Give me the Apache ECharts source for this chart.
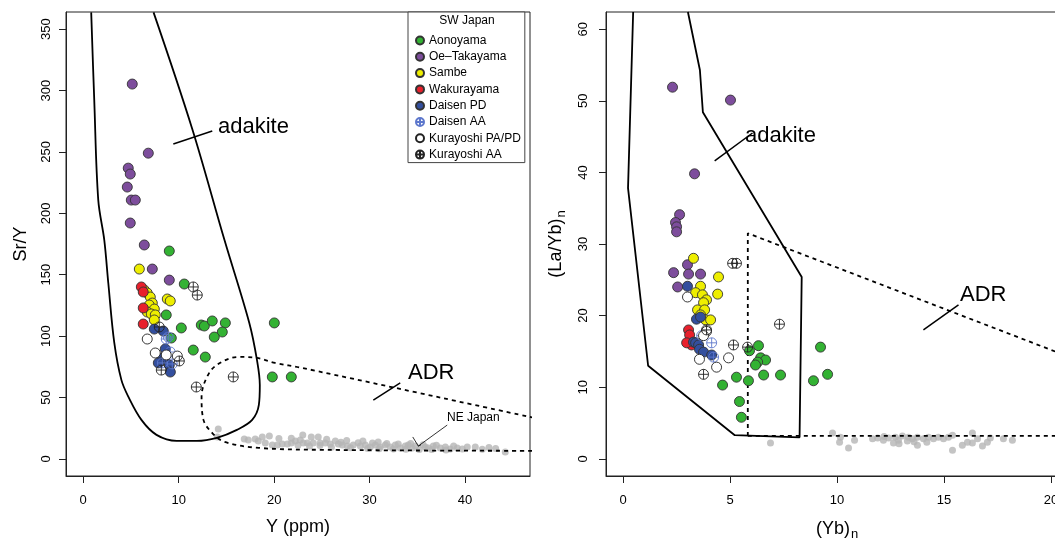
<!DOCTYPE html>
<html><head><meta charset="utf-8">
<script src="https://cdn.jsdelivr.net/npm/echarts@6/dist/echarts.min.js"></script>
<style>html,body{margin:0;padding:0;background:#fff}#c{width:1055px;height:541px}</style>
</head><body><div id="c"></div>
<script>
// ---------------- DATA ----------------
const groupNames = ['Aonoyama','Oe\u2013Takayama','Sambe','Wakurayama','Daisen PD','Daisen AA','Kurayoshi PA/PD','Kurayoshi AA'];
const leftTicksX = [0,10,20,30,40];
const leftTicksY = [0,50,100,150,200,250,300,350];
const rightTicksX = [0,5,10,15,20];
const rightTicksY = [0,10,20,30,40,50,60];

// Left panel: Y (ppm) vs Sr/Y
const L_aonoyama = [[9.02,169.3],[10.59,142.4],[8.70,117.2],[10.28,106.6],[12.37,109.0],[12.69,108.2],[13.52,112.3],[14.89,110.7],[14.57,103.3],[13.73,99.2],[9.23,98.4],[11.53,88.6],[12.79,82.9],[20.02,110.7],[19.81,66.7],[21.80,66.7]];
const L_oe = [[5.14,305.3],[6.82,249.0],[4.72,236.8],[4.93,232.0],[4.62,221.4],[5.04,210.8],[5.46,210.8],[4.93,192.1],[6.40,174.2],[7.24,154.6],[9.02,145.6]];
const L_sambe = [[5.88,154.6],[8.81,130.2],[9.12,128.6],[6.40,137.5],[6.71,135.1],[7.03,131.8],[7.24,126.9],[6.92,125.3],[7.45,122.0],[6.71,119.6],[7.13,118.0],[7.55,117.2],[7.45,113.1]];
const L_wakura = [[6.09,140.0],[6.29,135.9],[6.29,122.9],[6.29,109.8]];
const L_daisenPD = [[7.45,105.7],[8.39,104.1],[8.60,89.5],[8.29,82.1],[8.50,80.5],[9.02,76.4],[9.13,70.7],[7.87,78.1]];
const L_daisenAA = [[8.70,97.6],[8.91,99.2],[8.29,78.1],[9.33,77.3],[9.12,87.0]];
const L_kuraPA = [[6.71,97.6],[7.55,86.2],[8.70,84.6],[9.86,83.7]];
const L_kuraAA = [[11.53,140.0],[11.95,133.4],[7.97,107.4],[10.07,79.7],[8.18,72.3],[15.72,66.7],[11.85,58.5]];
const L_neJapan = [[14.15,24.3],[14.05,17.8],[16.87,16.1],[17.29,15.3],[18.02,16.1],[18.34,14.5],[18.76,17.8],[19.07,12.9],[19.81,11.2],[20.33,11.2],[20.85,12.1],[21.38,12.1],[21.80,12.9],[22.22,14.5],[22.74,15.3],[23.05,12.9],[23.47,12.9],[23.89,17.8],[24.10,12.9],[24.62,17.8],[24.83,12.9],[25.36,12.9],[25.88,12.1],[26.41,14.5],[26.72,12.1],[27.14,11.2],[27.67,10.4],[28.29,11.2],[29.03,10.4],[29.55,11.2],[30.07,9.6],[30.60,11.2],[31.12,9.6],[31.64,11.2],[32.17,9.6],[32.69,11.2],[33.21,8.8],[33.74,10.4],[34.05,11.2],[34.47,8.8],[34.79,10.4],[35.83,9.6],[36.15,8.8],[36.67,10.4],[37.40,8.8],[37.93,9.6],[38.45,8.0],[39.18,8.8],[39.71,8.0],[40.23,9.6],[41.07,9.6],[44.21,5.5],
 [26.0,9.5],[27.0,13.5],[28.0,9.0],[28.8,13.0],[29.8,8.5],[30.3,12.8],[31.0,8.2],[31.8,12.5],[32.5,8.0],[33.0,12.0],[33.8,7.8],[34.3,12.5],[35.2,7.6],[35.6,11.5],[36.5,7.5],[37.0,11.0],[38.0,7.2],[38.8,10.5],[22.5,11.0],[23.7,10.5],[24.8,10.8],[25.5,16.0],[27.6,15.0],[29.3,14.5],[30.9,13.8],[20.5,16.5],[21.8,16.8],[19.5,18.5],[23.0,19.5],[41.8,7.8],[42.5,9.2],[43.2,8.5]];

// Right panel: (Yb)n vs (La/Yb)n
const R_aonoyama = [[5.91,15.1],[6.33,15.8],[6.43,14.1],[6.66,13.8],[6.29,13.5],[6.19,13.1],[9.23,15.6],[9.56,11.8],[8.90,10.9],[7.36,11.7],[6.57,11.7],[5.86,10.9],[5.30,11.4],[4.65,10.3],[5.44,8.0],[5.53,5.8]];
const R_oe = [[2.31,51.9],[5.02,50.1],[3.34,39.8],[2.64,34.1],[2.45,33.0],[2.50,32.4],[2.50,31.7],[3.01,27.1],[2.36,26.0],[3.06,25.8],[3.62,25.8],[2.55,24.0]];
const R_sambe = [[3.29,28.0],[4.46,25.4],[3.62,24.1],[3.39,23.2],[3.71,22.9],[3.90,22.2],[4.42,23.0],[3.76,21.8],[3.48,20.8],[3.81,20.8],[3.62,20.1],[3.86,19.4],[4.09,19.4]];
const R_wakura = [[3.06,18.0],[3.11,17.3],[3.20,15.9],[2.97,16.2]];
const R_daisenPD = [[3.01,24.1],[3.43,19.5],[3.62,19.8],[3.29,16.3],[3.39,16.2],[3.53,15.9],[3.57,15.3],[3.76,14.9],[4.14,14.5]];
const R_daisenAA = [[4.14,16.2],[4.23,14.2],[3.67,17.2]];
const R_kuraPA = [[3.01,22.6],[3.90,17.8],[3.57,13.9],[4.37,12.8],[4.93,14.1],[3.76,17.2]];
const R_kuraAA = [[5.12,27.3],[5.30,27.3],[7.31,18.8],[5.16,15.9],[5.82,15.6],[3.90,18.0],[3.76,11.8]];
const R_neJapan = [[6.89,2.2],[9.79,3.6],[10.16,3.0],[10.12,2.3],[10.54,1.5],[10.82,2.6],[11.66,2.8],[12.17,2.6],[12.41,2.9],[12.64,2.2],[12.73,3.0],[12.87,2.6],[13.06,3.2],[13.29,2.5],[13.34,3.0],[13.53,2.8],[13.76,3.0],[13.76,1.9],[14.04,2.8],[14.28,3.0],[14.51,2.8],[14.74,3.0],[14.98,2.8],[15.21,3.0],[15.40,3.3],[15.40,1.2],[15.86,1.9],[16.10,2.3],[16.33,3.6],[16.33,2.2],[16.57,2.8],[16.80,1.8],[17.03,2.3],[17.17,2.9],[17.78,2.8],[18.20,2.6],[12.2,3.1],[12.9,2.1],[13.6,2.4],[14.2,2.3],[11.9,2.9]];

// Field boundaries
const L_adakiteField = [[0.84,363.7],[1.16,292],[1.58,210.7],[2.21,178.2],[2.63,143.2],[3.26,94.4],[4.0,64.3],[4.74,50.4],[6.1,31.7],[7.68,19.5],[9.79,14.6],[11.9,14.6],[14.0,17.1],[16.1,23.6],[17.7,31.7],[18.4,43.9],[18.5,60.2],[18.2,80.6],[17.4,110.7],[14.8,178.2],[11.4,269.3],[7.37,363.7]];
const L_adrField = [[47.2,33.4],[22.9,74.1],[20.1,78.1],[18.2,82.2],[16.3,83],[14.5,78.9],[13.2,70],[12.4,50.4],[12.6,31.7],[13.5,21.2],[14.8,13.8],[18.4,8.9],[25.4,7.3],[47.1,6.5]];
const R_adakiteField = [[0.47,62.4],[0.23,37.8],[1.17,13.0],[5.22,3.3],[8.25,3.0],[8.35,25.4],[3.73,48.4],[3.59,54.3],[3.03,62.4]];
const R_adrField = [[5.83,3.2],[5.83,31.5],[20.8,14.3]];
const R_adrBase = [[5.83,3.2],[20.8,3.2]];

// Leader lines
const L_adakiteLeader = [[9.44,256.5],[13.52,267.0]];
const L_adrLeader = [[30.39,47.9],[33.21,61.8]];
const L_neArrow = [[38.13,27.5],[35.10,10.4]];
const L_neArrowHead = [[35.36,11.2],[35.10,10.4],[34.52,17.8]];
const R_adakiteLeader = [[4.28,41.6],[6.05,45.5]];
const R_adrLeader = [[14.04,18.0],[15.68,21.5]];

// ---------------- STYLE ----------------
const FONT = 'Liberation Sans, Arial, Helvetica, sans-serif';
const CROSS = 'path://M0,-10A10,10,0,1,1,0,10A10,10,0,1,1,0,-10ZM-10,0L10,0M0,-10L0,10';
const styles = {
  'Aonoyama': {symbol:'circle', color:'#33b233', border:'#333'},
  'Oe\u2013Takayama': {symbol:'circle', color:'#7d4d9c', border:'#333'},
  'Sambe': {symbol:'circle', color:'#eeee00', border:'#333'},
  'Wakurayama': {symbol:'circle', color:'#e8202c', border:'#333'},
  'Daisen PD': {symbol:'circle', color:'#334f9e', border:'#333'},
  'Daisen AA': {symbol:CROSS, color:'rgba(255,255,255,0)', border:'#5d77cc'},
  'Kurayoshi PA/PD': {symbol:'circle', color:'#ffffff', border:'#222'},
  'Kurayoshi AA': {symbol:CROSS, color:'rgba(255,255,255,0)', border:'#222'}
};
const leftSets = [L_aonoyama,L_oe,L_sambe,L_wakura,L_daisenPD,L_daisenAA,L_kuraPA,L_kuraAA];
const rightSets = [R_aonoyama,R_oe,R_sambe,R_wakura,R_daisenPD,R_daisenAA,R_kuraPA,R_kuraAA];

function scatter(name, data, idx) {
  const s = styles[name];
  return {type:'scatter', name, data, xAxisIndex:idx, yAxisIndex:idx, symbol:s.symbol, symbolSize:10,
    itemStyle:{color:s.color, borderColor:s.border, borderWidth:0.9, opacity:1}, z:3, silent:true};
}
function line(data, idx, dashed, smooth, w) {
  return {type:'line', data, xAxisIndex:idx, yAxisIndex:idx, showSymbol:false, symbol:'none', smooth:smooth||false,
    lineStyle:{color:'#000', width:w||1.8, type: dashed ? [4,4] : 'solid'}, z:2, silent:true, clip:true};
}
function gray(data, idx) {
  return {type:'scatter', name:'NE Japan', data, xAxisIndex:idx, yAxisIndex:idx, symbol:'circle', symbolSize:7,
    itemStyle:{color:'#b5b5b5'}, z:1, silent:true};
}
function axisX(min, max, ticks, gridIndex, nameRich) {
  return {type:'value', gridIndex, min, max, position:'bottom', splitLine:{show:false},
    axisLine:{show:true, onZero:false, lineStyle:{color:'#222', width:1}},
    axisTick:{show:true, customValues:ticks, length:7, inside:false, lineStyle:{color:'#222', width:1}},
    axisLabel:{customValues:ticks, margin:18, color:'#000', fontSize:13, fontFamily:FONT},
    name: nameRich.text, nameLocation:'middle', nameGap:42,
    nameTextStyle:{color:'#000', fontSize:18, fontFamily:FONT, rich:nameRich.rich}};
}
function axisY(min, max, ticks, gridIndex, nameRich, gap, lm) {
  return {type:'value', gridIndex, min, max, position:'left', splitLine:{show:false},
    axisLine:{show:true, onZero:false, lineStyle:{color:'#222', width:1}},
    axisTick:{show:true, customValues:ticks, length:7, inside:false, lineStyle:{color:'#222', width:1}},
    axisLabel:{customValues:ticks, rotate:90, margin:lm, color:'#000', fontSize:13, fontFamily:FONT},
    name: nameRich.text, nameLocation:'middle', nameGap:gap,
    nameTextStyle:{color:'#000', fontSize:18, fontFamily:FONT, rich:nameRich.rich}};
}
const subRich = {sub:{fontSize:13, fontFamily:FONT, color:'#000', verticalAlign:'bottom', padding:[10,0,0,1]}};

const series = [];
series.push(gray(L_neJapan,0));
series.push(gray(R_neJapan,1));
series.push(line(L_adakiteField,0,false,0.35));
series.push(line(L_adrField,0,true,0.35));
series.push(line(R_adakiteField,1,false));
series.push(line(R_adrField,1,true));
series.push(line(R_adrBase,1,true));
series.push(line(L_adakiteLeader,0,false,false,1.5));
series.push(line(L_adrLeader,0,false,false,1.5));
series.push(line(L_neArrow,0,false,false,0.8));
series.push(line(L_neArrowHead,0,false,false,0.8));
series.push(line(R_adakiteLeader,1,false,false,1.5));
series.push(line(R_adrLeader,1,false,false,1.5));
groupNames.forEach((n,i)=>{ series.push(scatter(n,leftSets[i],0)); series.push(scatter(n,rightSets[i],1)); });

const chart = echarts.init(document.getElementById('c'), null, {renderer:'canvas'});
chart.setOption({
  animation:false,
  backgroundColor:'#fff',
  textStyle:{fontFamily:FONT},
  grid:[
    {left:66, top:12, width:464, height:464, show:true, borderColor:'#222', borderWidth:1, backgroundColor:'rgba(0,0,0,0)', outerBoundsMode:'none', containLabel:false},
    {left:606, top:12, width:462, height:464, show:true, borderColor:'#222', borderWidth:1, backgroundColor:'rgba(0,0,0,0)', outerBoundsMode:'none', containLabel:false}
  ],
  xAxis:[
    axisX(-1.8,46.8,leftTicksX,0,{text:'Y (ppm)'}),
    axisX(-0.8,20.8,rightTicksX,1,{text:'(Yb){sub|n}', rich:subRich})
  ],
  yAxis:[
    axisY(-14,364,leftTicksY,0,{text:'Sr/Y'},36,13),
    axisY(-2.4,62.4,rightTicksY,1,{text:'(La/Yb){sub|n}', rich:subRich},38,16)
  ],
  legend:{
    data:groupNames, orient:'vertical', left:408, top:12, selectedMode:false,
    itemWidth:8, itemHeight:8, itemGap:2.3,
    padding:[21.5,4,1,7], borderColor:'#444', borderWidth:1, backgroundColor:'#fff',
    textStyle:{fontSize:12, fontFamily:FONT, color:'#000', lineHeight:14, padding:[0,0,0,0]}
  },
  graphic:[
    {type:'text', x:467, y:21, style:{text:'SW Japan', fontSize:12, fontFamily:FONT, fill:'#000', align:'center', verticalAlign:'middle'}, z:100},
    {type:'text', x:218, y:127, style:{text:'adakite', fontSize:22, fontFamily:FONT, fill:'#000', verticalAlign:'middle'}, z:100},
    {type:'text', x:408, y:373, style:{text:'ADR', fontSize:22, fontFamily:FONT, fill:'#000', verticalAlign:'middle'}, z:100},
    {type:'text', x:447, y:418, style:{text:'NE Japan', fontSize:12, fontFamily:FONT, fill:'#000', verticalAlign:'middle'}, z:100},
    {type:'text', x:745, y:136, style:{text:'adakite', fontSize:22, fontFamily:FONT, fill:'#000', verticalAlign:'middle'}, z:100},
    {type:'text', x:960, y:295, style:{text:'ADR', fontSize:22, fontFamily:FONT, fill:'#000', verticalAlign:'middle'}, z:100}
  ],
  series
});
</script></body></html>
